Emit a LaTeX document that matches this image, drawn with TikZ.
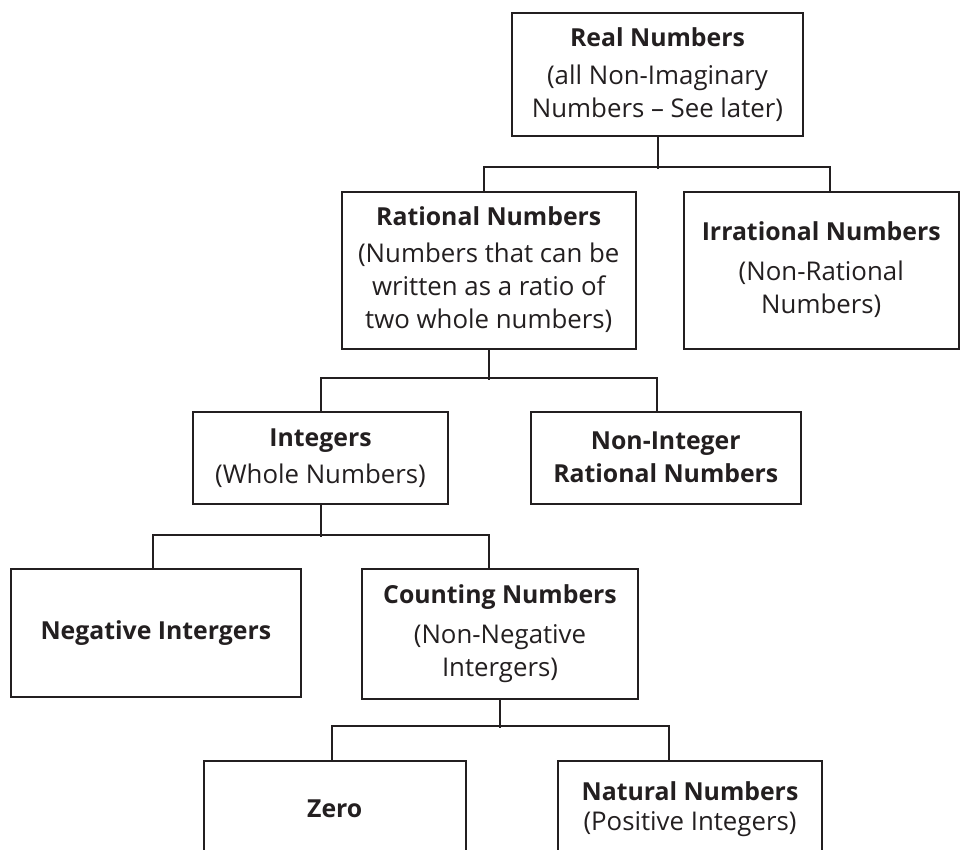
\documentclass[tikz,border=0pt]{standalone}
\usepackage{fontspec}
\setmainfont{Open Sans}
\usetikzlibrary{calc}
\definecolor{ink}{RGB}{35,31,32}
\newcommand\ttl[1]{{\fontsize{24.8}{33}\selectfont\bfseries #1}}
\tikzset{
  box/.style={draw=ink, line width=2pt, inner sep=0pt, align=center, text=ink,
    font=\fontsize{25.8}{33}\selectfont},
  conn/.style={draw=ink, line width=2pt}
}
\begin{document}
\begin{tikzpicture}[x=1pt,y=-1pt]
\useasboundingbox (0,0) rectangle (961,849);
\clip (0,0) rectangle (961,849);
\fill[white] (0,0) rectangle (961,849);
% boxes
\node[box, minimum width=291pt, minimum height=123pt] (real) at (657.5,74.5)
  {\ttl{Real Numbers}\\[5pt](all Non-Imaginary\\Numbers -- See later)};
\node[box, minimum width=293.5pt, minimum height=157pt] (rat) at (488.75,270)
  {\ttl{Rational Numbers}\\[4pt](Numbers that can be\\written as a ratio of\\two whole numbers)};
\node[box, minimum width=275.5pt, minimum height=157pt] (irr) at (821.25,270)
  {\ttl{Irrational Numbers}\\[7pt](Non-Rational\\Numbers)};
\node[box, minimum width=255pt, minimum height=92pt] (int) at (320.5,457.7)
  {\ttl{Integers}\\[4pt](Whole Numbers)};
\node[box, minimum width=270.4pt, minimum height=92pt] (nonint) at (665.8,457.7)
  {\ttl{Non-Integer}\\\ttl{Rational Numbers}};
\node[box, minimum width=290.3pt, minimum height=127.7pt] (neg) at (155.85,632.85)
  {\ttl{Negative Intergers}};
\node[box, minimum width=276pt, minimum height=130pt] (cnt) at (500,634)
  {\ttl{Counting Numbers}\\[7pt](Non-Negative\\Intergers)};
\node[box, minimum width=262.5pt, minimum height=96pt] (zero) at (334.75,809)
  {\ttl{Zero}};
\node[box, minimum width=264pt, minimum height=96pt] (nat) at (690,809)
  {\ttl{Natural Numbers}\\[-3pt](Positive Integers)};
% connectors
\draw[conn] (real.south) -- ++(0,32.3);
\draw[conn] ($(rat.north)+(-4.45,0)$) -- ++(0,-23.2) -| ($(irr.north)+(8.75,0)$);
\draw[conn] (rat.south) -- ++(0,30.7);
\draw[conn] (int.north) -- ++(0,-32.7) -| ($(nonint.north)+(-9.1,0)$);
\draw[conn] (int.south) -- ++(0,32);
\draw[conn] ($(neg.north)+(-3.25,0)$) -- ++(0,-33.3) -| ($(cnt.north)+(-11.2,0)$);
\draw[conn] (cnt.south) -- ++(0,28);
\draw[conn] ($(zero.north)+(-2.75,0)$) -- ++(0,-34) -| ($(nat.north)+(-21.5,0)$);
\end{tikzpicture}
\end{document}
